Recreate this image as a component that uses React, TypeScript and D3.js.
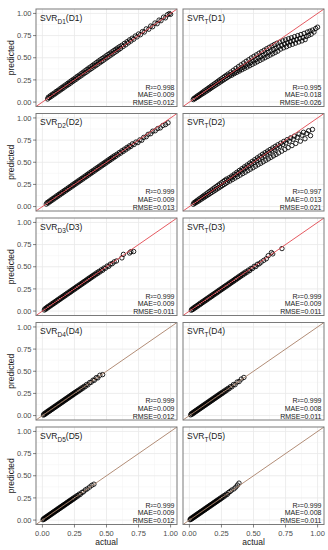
import React from "react";
import * as d3 from "d3";

// ---------- data ----------
const datasets = ["D1", "D2", "D3", "D4", "D5"];
const axisTicks = [0, 0.25, 0.5, 0.75, 1];
const minorTicks = [0.125, 0.375, 0.625, 0.875];

const r2D = ["0.998", "0.999", "0.999", "0.999", "0.999"];
const maeD = ["0.009", "0.009", "0.009", "0.009", "0.009"];
const rmseD = ["0.012", "0.013", "0.011", "0.012", "0.012"];
const r2T = ["0.995", "0.997", "0.999", "0.999", "0.999"];
const maeT = ["0.018", "0.013", "0.009", "0.008", "0.008"];
const rmseT = ["0.026", "0.021", "0.011", "0.011", "0.011"];

// [actual, predicted]
const ptsD1 = [[0.040,0.035],[0.046,0.055],[0.055,0.050],[0.062,0.072],[0.070,0.064],[0.077,0.088],[0.085,0.080],[0.092,0.101],[0.100,0.093],[0.107,0.119],[0.115,0.110],[0.122,0.133],[0.130,0.124],[0.137,0.149],[0.145,0.139],[0.152,0.165],[0.160,0.154],[0.167,0.180],[0.175,0.170],[0.182,0.195],[0.190,0.185],[0.197,0.211],[0.205,0.199],[0.212,0.226],[0.220,0.214],[0.227,0.242],[0.235,0.230],[0.242,0.257],[0.250,0.245],[0.257,0.272],[0.265,0.259],[0.272,0.290],[0.280,0.276],[0.287,0.303],[0.295,0.290],[0.302,0.320],[0.310,0.305],[0.317,0.336],[0.325,0.321],[0.332,0.352],[0.340,0.335],[0.347,0.368],[0.355,0.350],[0.362,0.384],[0.370,0.366],[0.377,0.398],[0.385,0.380],[0.392,0.415],[0.400,0.396],[0.407,0.430],[0.415,0.410],[0.422,0.446],[0.430,0.425],[0.437,0.462],[0.445,0.441],[0.452,0.477],[0.460,0.455],[0.467,0.492],[0.475,0.470],[0.482,0.506],[0.490,0.486],[0.497,0.522],[0.505,0.500],[0.512,0.537],[0.520,0.516],[0.527,0.551],[0.535,0.531],[0.542,0.566],[0.550,0.545],[0.557,0.581],[0.565,0.561],[0.572,0.596],[0.580,0.575],[0.587,0.610],[0.595,0.591],[0.602,0.625],[0.610,0.606],[0.620,0.641],[0.630,0.627],[0.640,0.662],[0.650,0.646],[0.660,0.681],[0.670,0.668],[0.680,0.702],[0.690,0.688],[0.700,0.720],[0.712,0.709],[0.725,0.745],[0.738,0.735],[0.750,0.768],[0.765,0.760],[0.780,0.795],[0.795,0.790],[0.810,0.826],[0.830,0.822],[0.845,0.858],[0.860,0.850],[0.878,0.892],[0.895,0.884],[0.910,0.925],[0.925,0.918],[0.945,0.958],[0.960,0.950],[0.975,0.985],[0.990,0.998],[1.000,0.990]];
const ptsT1 = [[0.030,0.028],[0.036,0.042],[0.043,0.038],[0.050,0.056],[0.056,0.050],[0.063,0.070],[0.070,0.062],[0.076,0.083],[0.083,0.075],[0.090,0.097],[0.096,0.088],[0.103,0.111],[0.110,0.100],[0.116,0.125],[0.123,0.113],[0.130,0.139],[0.136,0.125],[0.143,0.152],[0.150,0.138],[0.156,0.166],[0.163,0.151],[0.170,0.180],[0.176,0.164],[0.183,0.193],[0.190,0.177],[0.196,0.207],[0.203,0.190],[0.210,0.221],[0.216,0.202],[0.223,0.235],[0.230,0.215],[0.236,0.249],[0.243,0.228],[0.250,0.262],[0.256,0.240],[0.263,0.276],[0.270,0.253],[0.276,0.290],[0.283,0.266],[0.290,0.303],[0.296,0.278],[0.303,0.317],[0.310,0.290],[0.316,0.305],[0.323,0.338],[0.330,0.303],[0.336,0.322],[0.343,0.359],[0.350,0.320],[0.356,0.340],[0.363,0.380],[0.370,0.335],[0.376,0.357],[0.383,0.400],[0.390,0.350],[0.396,0.375],[0.403,0.420],[0.410,0.365],[0.416,0.392],[0.423,0.440],[0.430,0.380],[0.436,0.410],[0.443,0.460],[0.450,0.395],[0.456,0.428],[0.463,0.478],[0.470,0.410],[0.476,0.445],[0.483,0.498],[0.490,0.425],[0.496,0.462],[0.503,0.516],[0.510,0.440],[0.516,0.478],[0.523,0.533],[0.530,0.455],[0.536,0.495],[0.543,0.551],[0.550,0.470],[0.556,0.512],[0.563,0.568],[0.570,0.485],[0.576,0.528],[0.583,0.585],[0.590,0.500],[0.596,0.544],[0.603,0.602],[0.610,0.515],[0.616,0.560],[0.623,0.618],[0.630,0.530],[0.636,0.576],[0.643,0.634],[0.650,0.545],[0.656,0.592],[0.663,0.650],[0.670,0.560],[0.676,0.607],[0.683,0.664],[0.690,0.575],[0.696,0.622],[0.705,0.676],[0.712,0.598],[0.720,0.640],[0.728,0.690],[0.735,0.612],[0.742,0.655],[0.750,0.702],[0.758,0.625],[0.765,0.668],[0.773,0.714],[0.780,0.640],[0.788,0.682],[0.796,0.725],[0.804,0.652],[0.812,0.695],[0.820,0.738],[0.828,0.665],[0.836,0.706],[0.845,0.750],[0.853,0.678],[0.861,0.718],[0.870,0.762],[0.878,0.690],[0.886,0.728],[0.895,0.775],[0.903,0.705],[0.912,0.740],[0.920,0.790],[0.930,0.752],[0.940,0.800],[0.950,0.765],[0.960,0.812],[0.972,0.790],[0.985,0.830],[1.000,0.845]];
const ptsD2 = [[0.030,0.028],[0.037,0.045],[0.045,0.040],[0.052,0.060],[0.060,0.055],[0.067,0.076],[0.075,0.070],[0.082,0.091],[0.090,0.085],[0.097,0.106],[0.105,0.100],[0.112,0.122],[0.120,0.115],[0.127,0.137],[0.135,0.130],[0.142,0.152],[0.150,0.145],[0.157,0.167],[0.165,0.160],[0.172,0.182],[0.180,0.175],[0.187,0.197],[0.195,0.190],[0.202,0.212],[0.210,0.205],[0.217,0.227],[0.225,0.220],[0.232,0.243],[0.240,0.235],[0.247,0.258],[0.255,0.250],[0.262,0.273],[0.270,0.265],[0.277,0.288],[0.285,0.280],[0.292,0.303],[0.300,0.295],[0.307,0.318],[0.315,0.310],[0.322,0.333],[0.330,0.325],[0.337,0.348],[0.345,0.340],[0.352,0.364],[0.360,0.355],[0.367,0.379],[0.375,0.370],[0.382,0.394],[0.390,0.385],[0.397,0.409],[0.405,0.400],[0.412,0.424],[0.420,0.415],[0.427,0.439],[0.435,0.430],[0.442,0.454],[0.450,0.445],[0.457,0.469],[0.465,0.460],[0.472,0.484],[0.480,0.475],[0.487,0.499],[0.495,0.490],[0.502,0.514],[0.510,0.505],[0.517,0.529],[0.525,0.520],[0.532,0.544],[0.540,0.535],[0.547,0.559],[0.555,0.550],[0.562,0.574],[0.570,0.564],[0.580,0.590],[0.590,0.583],[0.600,0.610],[0.610,0.602],[0.620,0.630],[0.630,0.621],[0.640,0.648],[0.650,0.640],[0.660,0.668],[0.670,0.660],[0.680,0.686],[0.690,0.678],[0.702,0.708],[0.715,0.700],[0.730,0.728],[0.745,0.722],[0.760,0.752],[0.775,0.748],[0.790,0.780],[0.810,0.788],[0.825,0.815],[0.845,0.822],[0.860,0.850],[0.880,0.855],[0.900,0.880],[0.920,0.888],[0.940,0.915],[0.960,0.925],[0.980,0.945]];
const ptsT2 = [[0.030,0.026],[0.036,0.044],[0.043,0.037],[0.050,0.058],[0.056,0.049],[0.063,0.072],[0.070,0.061],[0.076,0.086],[0.083,0.074],[0.090,0.100],[0.096,0.086],[0.103,0.114],[0.110,0.099],[0.116,0.128],[0.123,0.111],[0.130,0.142],[0.136,0.124],[0.143,0.156],[0.150,0.136],[0.156,0.170],[0.163,0.149],[0.170,0.184],[0.176,0.161],[0.183,0.198],[0.190,0.174],[0.196,0.212],[0.203,0.186],[0.210,0.226],[0.216,0.199],[0.223,0.240],[0.230,0.211],[0.236,0.254],[0.243,0.224],[0.250,0.268],[0.256,0.236],[0.263,0.282],[0.270,0.249],[0.276,0.296],[0.283,0.261],[0.290,0.310],[0.296,0.274],[0.303,0.300],[0.310,0.325],[0.316,0.288],[0.323,0.320],[0.330,0.345],[0.336,0.305],[0.343,0.340],[0.350,0.366],[0.356,0.322],[0.363,0.360],[0.370,0.387],[0.376,0.338],[0.383,0.380],[0.390,0.408],[0.396,0.355],[0.403,0.400],[0.410,0.428],[0.416,0.372],[0.423,0.420],[0.430,0.449],[0.436,0.388],[0.443,0.440],[0.450,0.469],[0.456,0.405],[0.463,0.460],[0.470,0.490],[0.476,0.422],[0.483,0.479],[0.490,0.510],[0.496,0.438],[0.503,0.498],[0.510,0.530],[0.516,0.455],[0.523,0.517],[0.530,0.550],[0.536,0.472],[0.543,0.536],[0.550,0.570],[0.556,0.488],[0.563,0.555],[0.570,0.590],[0.576,0.505],[0.583,0.574],[0.590,0.608],[0.596,0.522],[0.603,0.592],[0.610,0.626],[0.616,0.538],[0.623,0.610],[0.630,0.644],[0.636,0.555],[0.643,0.628],[0.650,0.662],[0.656,0.572],[0.663,0.645],[0.670,0.680],[0.676,0.588],[0.683,0.662],[0.690,0.697],[0.696,0.605],[0.705,0.680],[0.712,0.715],[0.720,0.625],[0.728,0.700],[0.736,0.735],[0.745,0.645],[0.753,0.718],[0.762,0.755],[0.770,0.665],[0.780,0.738],[0.790,0.775],[0.800,0.688],[0.810,0.760],[0.820,0.795],[0.830,0.712],[0.842,0.782],[0.855,0.818],[0.866,0.738],[0.878,0.805],[0.890,0.838],[0.902,0.765],[0.915,0.825],[0.930,0.855],[0.945,0.800],[0.960,0.870]];
const ptsD3 = [[0.015,0.012],[0.020,0.026],[0.027,0.022],[0.033,0.040],[0.040,0.035],[0.046,0.054],[0.053,0.048],[0.060,0.067],[0.066,0.061],[0.073,0.081],[0.080,0.075],[0.086,0.094],[0.093,0.088],[0.100,0.108],[0.106,0.101],[0.113,0.121],[0.120,0.115],[0.126,0.134],[0.133,0.128],[0.140,0.148],[0.146,0.141],[0.153,0.161],[0.160,0.155],[0.166,0.174],[0.173,0.168],[0.180,0.188],[0.186,0.181],[0.193,0.201],[0.200,0.195],[0.206,0.214],[0.213,0.208],[0.220,0.228],[0.226,0.221],[0.233,0.241],[0.240,0.235],[0.246,0.254],[0.253,0.248],[0.260,0.268],[0.266,0.261],[0.273,0.281],[0.280,0.275],[0.286,0.294],[0.293,0.288],[0.300,0.308],[0.306,0.301],[0.313,0.321],[0.320,0.315],[0.326,0.334],[0.333,0.328],[0.340,0.348],[0.346,0.341],[0.353,0.361],[0.360,0.355],[0.366,0.374],[0.373,0.368],[0.380,0.388],[0.386,0.381],[0.393,0.401],[0.400,0.395],[0.408,0.416],[0.416,0.410],[0.424,0.432],[0.432,0.425],[0.440,0.447],[0.450,0.442],[0.460,0.466],[0.470,0.460],[0.480,0.485],[0.492,0.483],[0.505,0.508],[0.518,0.505],[0.530,0.530],[0.545,0.535],[0.560,0.555],[0.578,0.565],[0.620,0.600],[0.632,0.640],[0.680,0.655],[0.690,0.670],[0.712,0.672]];
const ptsT3 = [[0.015,0.010],[0.020,0.022],[0.027,0.018],[0.033,0.036],[0.040,0.031],[0.046,0.050],[0.053,0.044],[0.060,0.063],[0.066,0.057],[0.073,0.077],[0.080,0.071],[0.086,0.090],[0.093,0.084],[0.100,0.104],[0.106,0.097],[0.113,0.117],[0.120,0.111],[0.126,0.130],[0.133,0.124],[0.140,0.144],[0.146,0.137],[0.153,0.157],[0.160,0.151],[0.166,0.170],[0.173,0.164],[0.180,0.184],[0.186,0.177],[0.193,0.197],[0.200,0.191],[0.206,0.210],[0.213,0.204],[0.220,0.224],[0.226,0.217],[0.233,0.237],[0.240,0.231],[0.246,0.250],[0.253,0.244],[0.260,0.264],[0.266,0.257],[0.273,0.277],[0.280,0.271],[0.286,0.290],[0.293,0.284],[0.300,0.304],[0.306,0.297],[0.313,0.317],[0.320,0.311],[0.326,0.330],[0.333,0.324],[0.340,0.344],[0.346,0.337],[0.353,0.357],[0.360,0.351],[0.366,0.370],[0.373,0.364],[0.380,0.384],[0.386,0.377],[0.393,0.397],[0.400,0.391],[0.408,0.412],[0.416,0.406],[0.424,0.428],[0.432,0.421],[0.440,0.443],[0.450,0.438],[0.460,0.462],[0.470,0.456],[0.480,0.481],[0.492,0.480],[0.505,0.505],[0.518,0.502],[0.530,0.528],[0.545,0.533],[0.560,0.552],[0.580,0.572],[0.600,0.590],[0.615,0.625],[0.640,0.660],[0.650,0.645],[0.722,0.705]];
const ptsD4 = [[0.008,0.006],[0.012,0.018],[0.018,0.012],[0.023,0.030],[0.029,0.024],[0.034,0.041],[0.040,0.035],[0.045,0.052],[0.051,0.046],[0.056,0.063],[0.062,0.057],[0.067,0.074],[0.073,0.068],[0.078,0.085],[0.084,0.079],[0.089,0.096],[0.095,0.090],[0.100,0.107],[0.106,0.101],[0.111,0.118],[0.117,0.112],[0.122,0.129],[0.128,0.123],[0.133,0.140],[0.139,0.134],[0.144,0.151],[0.150,0.145],[0.155,0.162],[0.161,0.156],[0.166,0.173],[0.172,0.167],[0.177,0.184],[0.183,0.178],[0.188,0.195],[0.194,0.189],[0.199,0.206],[0.205,0.200],[0.210,0.217],[0.216,0.211],[0.221,0.228],[0.227,0.222],[0.232,0.239],[0.238,0.233],[0.243,0.250],[0.249,0.244],[0.254,0.261],[0.260,0.255],[0.266,0.272],[0.272,0.266],[0.279,0.285],[0.286,0.279],[0.293,0.299],[0.300,0.293],[0.308,0.314],[0.316,0.308],[0.325,0.330],[0.334,0.326],[0.344,0.350],[0.355,0.346],[0.368,0.372],[0.380,0.375],[0.395,0.400],[0.405,0.398],[0.420,0.428],[0.432,0.425],[0.448,0.455],[0.470,0.462]];
const ptsT4 = [[0.010,0.008],[0.015,0.021],[0.021,0.015],[0.026,0.033],[0.032,0.026],[0.037,0.044],[0.043,0.037],[0.048,0.055],[0.054,0.048],[0.059,0.066],[0.065,0.059],[0.070,0.077],[0.076,0.070],[0.081,0.088],[0.087,0.081],[0.092,0.099],[0.098,0.092],[0.103,0.110],[0.109,0.103],[0.114,0.121],[0.120,0.114],[0.125,0.132],[0.131,0.125],[0.136,0.143],[0.142,0.136],[0.147,0.154],[0.153,0.147],[0.158,0.165],[0.164,0.158],[0.169,0.176],[0.175,0.169],[0.180,0.187],[0.186,0.180],[0.191,0.198],[0.197,0.191],[0.202,0.209],[0.208,0.202],[0.213,0.220],[0.219,0.213],[0.224,0.231],[0.230,0.224],[0.235,0.242],[0.241,0.235],[0.246,0.253],[0.252,0.246],[0.258,0.264],[0.264,0.257],[0.271,0.277],[0.278,0.271],[0.285,0.291],[0.293,0.286],[0.301,0.307],[0.310,0.303],[0.320,0.326],[0.331,0.324],[0.343,0.350],[0.356,0.348],[0.372,0.378],[0.388,0.384],[0.405,0.412],[0.425,0.430]];
const ptsD5 = [[0.005,0.004],[0.009,0.014],[0.014,0.010],[0.019,0.025],[0.024,0.019],[0.029,0.035],[0.034,0.029],[0.039,0.045],[0.044,0.039],[0.049,0.055],[0.054,0.049],[0.059,0.065],[0.064,0.059],[0.069,0.075],[0.074,0.069],[0.079,0.085],[0.084,0.079],[0.089,0.095],[0.094,0.089],[0.099,0.105],[0.104,0.099],[0.109,0.115],[0.114,0.109],[0.119,0.125],[0.124,0.119],[0.129,0.135],[0.134,0.129],[0.139,0.145],[0.144,0.139],[0.149,0.155],[0.154,0.149],[0.159,0.165],[0.164,0.159],[0.169,0.175],[0.174,0.169],[0.179,0.185],[0.184,0.179],[0.189,0.195],[0.194,0.189],[0.199,0.205],[0.204,0.199],[0.209,0.215],[0.214,0.209],[0.219,0.225],[0.224,0.219],[0.230,0.236],[0.236,0.230],[0.242,0.248],[0.248,0.242],[0.255,0.261],[0.262,0.256],[0.270,0.276],[0.278,0.272],[0.287,0.293],[0.296,0.290],[0.308,0.312],[0.320,0.318],[0.335,0.340],[0.350,0.352],[0.368,0.372],[0.385,0.392],[0.402,0.405]];
const ptsT5 = [[0.005,0.004],[0.009,0.014],[0.014,0.010],[0.019,0.025],[0.024,0.019],[0.029,0.035],[0.034,0.029],[0.039,0.045],[0.044,0.039],[0.049,0.055],[0.054,0.049],[0.059,0.065],[0.064,0.059],[0.069,0.075],[0.074,0.069],[0.079,0.085],[0.084,0.079],[0.089,0.095],[0.094,0.089],[0.099,0.105],[0.104,0.099],[0.109,0.115],[0.114,0.109],[0.119,0.125],[0.124,0.119],[0.129,0.135],[0.134,0.129],[0.139,0.145],[0.144,0.139],[0.149,0.155],[0.154,0.149],[0.159,0.165],[0.164,0.159],[0.169,0.175],[0.174,0.169],[0.179,0.185],[0.184,0.179],[0.189,0.195],[0.194,0.189],[0.199,0.205],[0.204,0.199],[0.209,0.215],[0.214,0.209],[0.219,0.225],[0.224,0.219],[0.230,0.236],[0.236,0.230],[0.242,0.248],[0.248,0.242],[0.255,0.261],[0.262,0.256],[0.270,0.276],[0.278,0.272],[0.287,0.293],[0.296,0.290],[0.306,0.312],[0.318,0.322],[0.330,0.338],[0.348,0.352],[0.362,0.372],[0.375,0.395],[0.387,0.417]];

const ptsDcol = [ptsD1, ptsD2, ptsD3, ptsD4, ptsD5];
const ptsTcol = [ptsT1, ptsT2, ptsT3, ptsT4, ptsT5];

// ---------- layout / style ----------
const W = 328, H = 550;
const colX = [36, 183];
const panelW = 141;
const rowY = [9, 113.5, 218, 322.5, 427];
const panelH = 97.5;
const lineColors = ["#e2474f", "#e2474f", "#e2474f", "#a98068", "#a98068"];
const FONT = "'Liberation Sans', Arial, Helvetica, sans-serif";

const x = d3.scaleLinear().domain([-0.05, 1.05]).range([0, panelW]);
const y = d3.scaleLinear().domain([-0.05, 1.05]).range([panelH, 0]);
const fmt = d3.format(".2f");

function Panel({ px, py, pts, model, ds, r2, mae, rmse, lineColor, showY, showX }) {
  const diag = d3.line<number>().x((v) => x(v)).y((v) => y(v))([-0.05, 1.05]);
  return (
    <g transform={`translate(${px},${py})`}>
      <rect x={0} y={0} width={panelW} height={panelH} fill="#fff" />
      {minorTicks.map((t) => (
        <g key={"m" + t}>
          <line x1={x(t)} x2={x(t)} y1={0} y2={panelH} stroke="#f3f3f3" strokeWidth={0.5} />
          <line x1={0} x2={panelW} y1={y(t)} y2={y(t)} stroke="#f3f3f3" strokeWidth={0.5} />
        </g>
      ))}
      {axisTicks.map((t) => (
        <g key={"M" + t}>
          <line x1={x(t)} x2={x(t)} y1={0} y2={panelH} stroke="#e8e8e8" strokeWidth={0.8} />
          <line x1={0} x2={panelW} y1={y(t)} y2={y(t)} stroke="#e8e8e8" strokeWidth={0.8} />
        </g>
      ))}
      <g>
        {pts.map((p, i) => (
          <circle key={i} cx={x(p[0])} cy={y(p[1])} r={2.2} fill="none" stroke="#000" strokeWidth={0.85} />
        ))}
      </g>
      <path d={diag} stroke={lineColor} strokeWidth={0.9} fill="none" />
      <rect x={0} y={0} width={panelW} height={panelH} fill="none" stroke="#7a7a7a" strokeWidth={1} />
      <text x={4} y={11.5} fontSize={8.5} fill="#1a1a1a" fontFamily={FONT}>
        SVR<tspan fontSize={6.5} dy={3}>{model + (model === "T" ? "" : ds.slice(1))}</tspan>
        <tspan dy={-3}>({ds})</tspan>
      </text>
      <g fontFamily={FONT} fontSize={7} fill="#1a1a1a" textAnchor="end">
        <text x={panelW - 2.5} y={panelH - 17}>R²={r2}</text>
        <text x={panelW - 2.5} y={panelH - 9.2}>MAE={mae}</text>
        <text x={panelW - 2.5} y={panelH - 1.5}>RMSE={rmse}</text>
      </g>
      {showY &&
        axisTicks.map((t) => (
          <g key={"yt" + t}>
            <line x1={-3} x2={0} y1={y(t)} y2={y(t)} stroke="#333" strokeWidth={0.6} />
            <text x={-4.5} y={y(t) + 2.7} fontSize={7.5} fill="#4d4d4d" textAnchor="end" fontFamily={FONT}>
              {fmt(t)}
            </text>
          </g>
        ))}
      {showX &&
        axisTicks.map((t) => (
          <g key={"xt" + t}>
            <line x1={x(t)} x2={x(t)} y1={panelH} y2={panelH + 3} stroke="#333" strokeWidth={0.6} />
            <text x={x(t)} y={panelH + 11} fontSize={7.5} fill="#4d4d4d" textAnchor="middle" fontFamily={FONT}>
              {fmt(t)}
            </text>
          </g>
        ))}
    </g>
  );
}

export default function App() {
  return (
    <svg width={W} height={H} style={{ position: "absolute", left: 0, top: 0, background: "#fff" }}>
      <rect width={W} height={H} fill="#fff" />
      {datasets.map((ds, i) => (
        <g key={ds}>
          <Panel px={colX[0]} py={rowY[i]} pts={ptsDcol[i]} model="D" ds={ds} r2={r2D[i]} mae={maeD[i]} rmse={rmseD[i]}
            lineColor={lineColors[i]} showY={true} showX={i === datasets.length - 1} />
          <Panel px={colX[1]} py={rowY[i]} pts={ptsTcol[i]} model="T" ds={ds} r2={r2T[i]} mae={maeT[i]} rmse={rmseT[i]}
            lineColor={lineColors[i]} showY={false} showX={i === datasets.length - 1} />
          <text transform={`translate(${14},${rowY[i] + panelH / 2}) rotate(-90)`} textAnchor="middle"
            fontSize={8.5} fill="#1a1a1a" fontFamily={FONT}>predicted</text>
        </g>
      ))}
      {colX.map((cx, j) => (
        <text key={j} x={cx + panelW / 2} y={545} textAnchor="middle" fontSize={8.5} fill="#1a1a1a" fontFamily={FONT}>actual</text>
      ))}
    </svg>
  );
}
